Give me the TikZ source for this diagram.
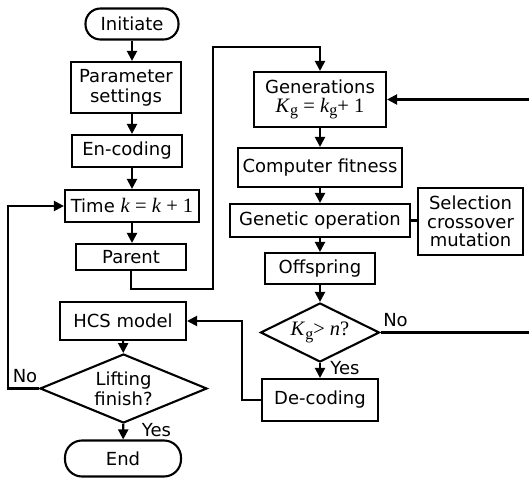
\documentclass[tikz,border=0pt]{standalone}
\usepackage{fontspec}
\setmainfont{DejaVu Sans}
\newfontfamily\tms{Liberation Serif}
\newcommand{\subg}{\raisebox{-3.5pt}{\fontsize{16}{16}\selectfont g}}
\newcommand{\mfont}{\tms\fontsize{20.5}{21}\selectfont}
\usetikzlibrary{arrows.meta,shapes.geometric}
\begin{document}
\begin{tikzpicture}[x=1pt,y=-1pt, line width=2.1pt,
  font=\fontsize{18}{20}\selectfont,
  box/.style={draw, rectangle, inner sep=0pt, align=center},
  pill/.style={draw, rectangle, rounded corners=15pt, inner sep=0pt, align=center},
  dia/.style={draw, diamond, inner sep=0pt, align=center},
  arr/.style={-{Triangle[length=10pt,width=10pt]}},
  lbl/.style={inner sep=0pt}]
\useasboundingbox (0,0) rectangle (529,478);
% left column
\node[pill, minimum width=93pt, minimum height=31pt] (init) at (132,24) {Initiate};
\node[box, minimum width=110pt, minimum height=51pt] (param) at (126,87.5) {Parameter\\settings};
\node[box, minimum width=110pt, minimum height=32pt] (enc) at (127,151) {En-coding};
\node[box, minimum width=134pt, minimum height=32pt] (time) at (132,206) {Time {\mfont\textit{k} = \textit{k} + 1}};
\node[box, minimum width=110pt, minimum height=26pt] (parent) at (131,257) {Parent};
\node[box, minimum width=126pt, minimum height=38pt] (hcs) at (123,321) {HCS model};
\node[dia, minimum width=167pt, minimum height=69pt, aspect=2.4] (lift) at (123.5,388.5) {Lifting\\finish?};
\node[pill, minimum width=116pt, minimum height=36pt, rounded corners=17pt] (fin) at (123,458.5) {End};
% right column
\node[box, minimum width=132pt, minimum height=55pt] (gen) at (320,99.5) {Generations\\[-1pt]{\mfont\textit{K}\subg{} = \textit{k}\subg+ 1}};
\node[box, minimum width=164pt, minimum height=39pt] (fit) at (320,167.5) {Computer fitness};
\node[box, minimum width=180pt, minimum height=33pt] (genop) at (320,220.5) {Genetic operation};
\node[box, minimum width=105pt, minimum height=67pt, font=\fontsize{18}{18.5}\selectfont] (sel) at (470.5,221.5) {Selection\\crossover\\mutation};
\node[box, minimum width=110pt, minimum height=31pt] (off) at (320,268.5) {Offspring};
\node[dia, minimum width=119pt, minimum height=59pt, aspect=2] (kg) at (320,332.5) {{\mfont\textit{K}\subg> \textit{n}?}};
\node[box, minimum width=116pt, minimum height=42pt] (dec) at (320,400) {De-coding};
% labels
\node[lbl] (no1) at (25,376) {No};
\node[lbl] (yes1) at (156.5,430) {Yes};
\node[lbl] (no2) at (395.5,320.5) {No};
\node[lbl] (yes2) at (345,368.5) {Yes};
% coordinates
\coordinate (pa) at (213,289);
\coordinate (pb) at (213,47);
\coordinate (re1) at (529,99.5);
\coordinate (re2) at (529,332.5);
\coordinate (dc) at (242,400);
\coordinate (lc) at (8,388.5);
% connectors
\draw[arr] (init.south) -- (init.south |- param.north);
\draw[arr] (param.south -| init.south) -- (init.south |- enc.north);
\draw[arr] (enc.south -| init.south) -- (init.south |- time.north);
\draw[arr] (time.south -| init.south) -- (init.south |- parent.north);
\draw[arr] (parent.south) |- (pa) -- (pb) -| (gen.north);
\draw[arr] (re1) -- (gen.east);
\draw[arr] (gen) -- (fit);
\draw[arr] (fit) -- (genop);
\draw (genop.east) -- (genop.east -| sel.west);
\draw[arr] (genop) -- (off);
\draw[arr] (off) -- (kg);
\draw (kg.east) -- (re2);
\draw[arr] (kg) -- (dec);
\draw[arr] (dec.west) -- (dc) |- (hcs.east);
\draw[arr] (hcs) -- (lift);
\draw[arr] (lift.west) -- (lc) |- (time.west);
\draw[arr] (lift) -- (fin);
\end{tikzpicture}
\end{document}
